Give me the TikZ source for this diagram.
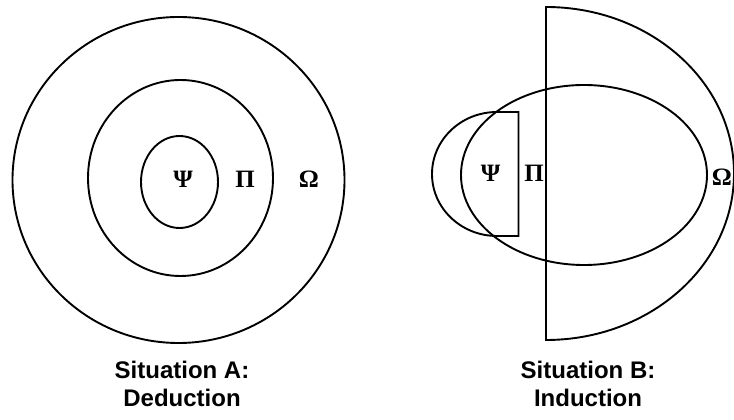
\documentclass[tikz,border=0pt]{standalone}
\usepackage{fontspec}
\setmainfont{Liberation Serif}
\newfontfamily\capfont{Liberation Sans}
\usepackage{xcolor}
\usepackage{tikz}
\definecolor{inkc}{HTML}{000000}

\begin{document}
\begin{tikzpicture}[x=1pt, y=1pt,
    setline/.style={draw=inkc, line width=1.9pt},
    greek/.style={font=\bfseries\fontsize{25}{28}\selectfont, inkc, inner sep=0pt},
    caption/.style={font=\capfont\bfseries\fontsize{24}{28}\selectfont, align=center, anchor=north, inner sep=0pt}]
    \useasboundingbox (0,0) rectangle (734,420);
    % Situation A
    \draw[setline] (178.5,240) ellipse (166 and 163);
    \draw[setline] (180.5,242) ellipse (92.5 and 98);
    \draw[setline] (179.5,238) ellipse (38.5 and 46);
    \node[greek] (psiA) at (183,241) {Ψ};
    \node[greek] (piA) at (245,241) {Π};
    \node[greek] (omegaA) at (309,241) {Ω};
    \node[caption] (capA) at (182,59) {Situation A:\\Deduction};
    % Situation B
    \draw[setline] (546,413) arc (90:-90:188 and 166.5) -- cycle;
    \draw[setline] (584,245) ellipse (123 and 90);
    \draw[setline] (518.5,308) -- (497,308) arc (90:270:65 and 62) -- (518.5,184) -- cycle;
    \node[greek] (psiB) at (490.5,246.5) {Ψ};
    \node[greek] (piB) at (534,246.5) {Π};
    \node[greek] (omegaB) at (722,242.5) {Ω};
    \node[caption] (capB) at (588,59) {Situation B:\\Induction};
  \end{tikzpicture}
\end{document}
